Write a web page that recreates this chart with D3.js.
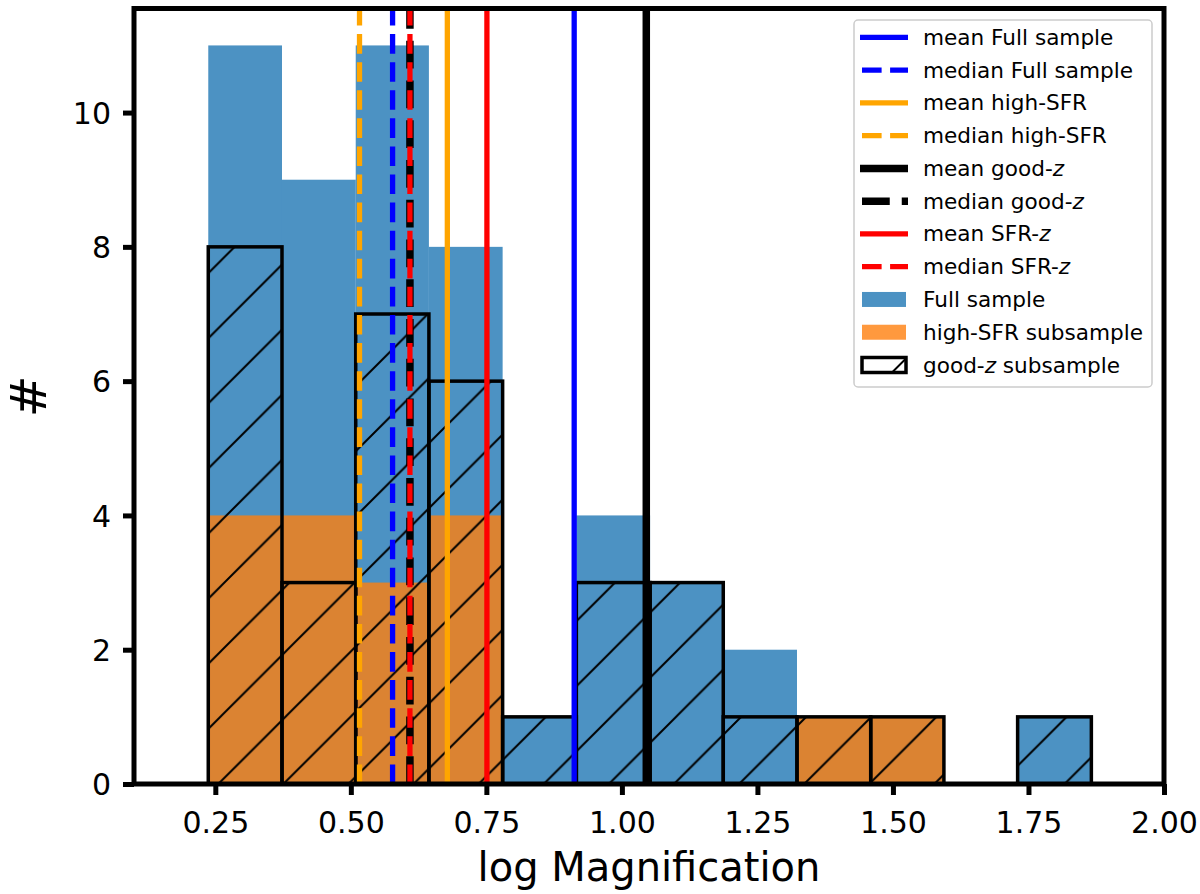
<!DOCTYPE html>
<html>
<head>
<meta charset="utf-8">
<script src="https://cdn.jsdelivr.net/npm/d3@7"></script>
<style>
  html, body { margin: 0; padding: 0; background: #fff; }
  svg { display: block; font-family: "DejaVu Sans", sans-serif; }
</style>
</head>
<body>
<svg id="chart" width="1200" height="894"></svg>
<script>
// ---------------- data ----------------
const binEdges = [0.237, 0.373, 0.509, 0.644, 0.780, 0.916, 1.052, 1.187, 1.323, 1.459, 1.594, 1.730, 1.866];
const fullCounts    = [11, 9, 11, 8, 1, 4, 3, 2, 1, 1, 0, 1];
const highSfrCounts = [4, 4, 3, 4, 0, 0, 0, 0, 1, 1, 0, 0];
const goodZCounts   = [8, 3, 7, 6, 1, 3, 3, 1, 1, 1, 0, 1];

const lineLabels = ["mean Full sample", "median Full sample", "mean high-SFR", "median high-SFR",
                    "mean good-z", "median good-z", "mean SFR-z", "median SFR-z"];
const lineValues = [0.912, 0.577, 0.678, 0.516, 1.045, 0.609, 0.751, 0.609];
const lineColors = ["#0000ff", "#0000ff", "#ffa500", "#ffa500", "#000000", "#000000", "#ff0000", "#ff0000"];
const lineDashed = [false, true, false, true, false, true, false, true];
const lineWide   = [false, false, false, false, true, true, false, false];

const patchLabels = ["Full sample", "high-SFR subsample", "good-z subsample"];

const xTicks = [0.25, 0.50, 0.75, 1.00, 1.25, 1.50, 1.75, 2.00];
const yTicks = [0, 2, 4, 6, 8, 10];
const xDomain = [0.1, 2.0];
const yDomain = [0, 11.55];

// ---------------- layout ----------------
const svg = d3.select("#chart");
const axL = 134, axR = 1164, axT = 8.5, axB = 784;
const x = d3.scaleLinear().domain(xDomain).range([axL, axR]);
const y = d3.scaleLinear().domain(yDomain).range([axB, axT]);

const blue = "#1f77b4", orange = "#ff7f0e";
const hatchStep = 65.1;

const defs = svg.append("defs");
const pat = defs.append("pattern")
  .attr("id", "hatch")
  .attr("patternUnits", "userSpaceOnUse")
  .attr("x", 25.8).attr("y", 0)
  .attr("width", hatchStep).attr("height", hatchStep);
pat.append("path")
  .attr("d", `M0,${hatchStep} L${hatchStep},0 M-4,4 L4,-4 M${hatchStep-4},${hatchStep+4} L${hatchStep+4},${hatchStep-4}`)
  .attr("stroke", "#000").attr("stroke-width", 2).attr("fill", "none");
defs.append("clipPath").attr("id", "clipAx")
  .append("rect").attr("x", axL).attr("y", axT).attr("width", axR - axL).attr("height", axB - axT);

const bins = binEdges.slice(0, -1).map((e, i) => ({ x0: e, x1: binEdges[i + 1], i }));

const plot = svg.append("g");

// full sample
plot.selectAll("rect.full").data(bins.filter(d => fullCounts[d.i] > 0)).join("rect").attr("class", "full")
  .attr("x", d => x(d.x0)).attr("width", d => x(d.x1) - x(d.x0))
  .attr("y", d => y(fullCounts[d.i])).attr("height", d => y(0) - y(fullCounts[d.i]))
  .attr("fill", blue).attr("fill-opacity", 0.8);

// high-SFR
plot.selectAll("rect.high").data(bins.filter(d => highSfrCounts[d.i] > 0)).join("rect").attr("class", "high")
  .attr("x", d => x(d.x0)).attr("width", d => x(d.x1) - x(d.x0))
  .attr("y", d => y(highSfrCounts[d.i])).attr("height", d => y(0) - y(highSfrCounts[d.i]))
  .attr("fill", orange).attr("fill-opacity", 0.8);

// good-z (hatched outlines)
const gz = bins.filter(d => goodZCounts[d.i] > 0);
plot.selectAll("rect.gzh").data(gz).join("rect").attr("class", "gzh")
  .attr("x", d => x(d.x0)).attr("width", d => x(d.x1) - x(d.x0))
  .attr("y", d => y(goodZCounts[d.i])).attr("height", d => y(0) - y(goodZCounts[d.i]))
  .attr("fill", "url(#hatch)");
plot.selectAll("rect.gz").data(gz).join("rect").attr("class", "gz")
  .attr("x", d => x(d.x0)).attr("width", d => x(d.x1) - x(d.x0))
  .attr("y", d => y(goodZCounts[d.i])).attr("height", d => y(0) - y(goodZCounts[d.i]))
  .attr("fill", "none").attr("stroke", "#000").attr("stroke-width", 3.5);

// vertical lines
function lwFor(i) { return lineWide[i] ? 7.5 : 5.3; }
function dashFor(i) {
  const lw = lwFor(i);
  return lineDashed[i] ? `${(3.7 * lw).toFixed(2)},${(1.6 * lw).toFixed(2)}` : null;
}
lineValues.forEach((v, i) => {
  plot.append("line")
    .attr("x1", x(v)).attr("x2", x(v))
    .attr("y1", y(0)).attr("y2", y(yDomain[1]))
    .attr("stroke", lineColors[i]).attr("stroke-width", lwFor(i))
    .attr("stroke-dasharray", dashFor(i))
    .attr("clip-path", "url(#clipAx)");
});

// ---------------- axes ----------------
const xAxis = d3.axisBottom(x).tickValues(xTicks).tickFormat(d3.format(".2f")).tickSize(11).tickPadding(16);
const gx = svg.append("g").attr("transform", `translate(0,${axB})`).call(xAxis);
gx.select(".domain").remove();
gx.selectAll(".tick line").attr("stroke", "#000").attr("stroke-width", 5);
gx.selectAll(".tick text").attr("font-size", 30).attr("fill", "#000")
  .attr("font-family", "DejaVu Sans").attr("dy", "0.74em");

const yAxis = d3.axisLeft(y).tickValues(yTicks).tickFormat(d3.format("d")).tickSize(11).tickPadding(12);
const gy = svg.append("g").attr("transform", `translate(${axL},0)`).call(yAxis);
gy.select(".domain").remove();
gy.selectAll(".tick line").attr("stroke", "#000").attr("stroke-width", 5);
gy.selectAll(".tick text").attr("font-size", 30).attr("fill", "#000")
  .attr("font-family", "DejaVu Sans").attr("dy", "0.36em");

// spines
svg.append("rect").attr("x", axL).attr("y", axT).attr("width", axR - axL).attr("height", axB - axT)
  .attr("fill", "none").attr("stroke", "#000").attr("stroke-width", 5);

// axis labels
svg.append("text").attr("x", (axL + axR) / 2).attr("y", 881)
  .attr("text-anchor", "middle").attr("font-size", 40).attr("fill", "#000")
  .text("log Magnification");
svg.append("text").attr("transform", `translate(46,${(axT + axB) / 2}) rotate(-90)`)
  .attr("text-anchor", "middle").attr("font-size", 50).attr("fill", "#000")
  .text("#");

// ---------------- legend ----------------
const lg = svg.append("g");
lg.append("rect").attr("x", 854).attr("y", 20).attr("width", 298).attr("height", 367)
  .attr("rx", 4).attr("fill", "#fff").attr("fill-opacity", 0.8)
  .attr("stroke", "#cccccc").attr("stroke-width", 1.5);

const rowY0 = 37.3, rowStep = 32.77;
const hx0 = 860, hx1 = 908, tx = 923, lfs = 21.6;

function addLabel(text, yy) {
  const t = lg.append("text").attr("x", tx).attr("y", yy + 7.5).attr("font-size", lfs).attr("fill", "#000");
  const m = text.match(/^(.*-)z$/) || text.match(/^(.*-)z( subsample)$/);
  if (m) {
    t.append("tspan").text(m[1]);
    t.append("tspan").attr("font-style", "italic").text("z");
    if (m[2]) t.append("tspan").text(m[2]);
  } else {
    t.text(text);
  }
}

lineLabels.forEach((lab, i) => {
  const yy = rowY0 + i * rowStep;
  lg.append("line").attr("x1", hx0).attr("x2", hx1).attr("y1", yy).attr("y2", yy)
    .attr("stroke", lineColors[i]).attr("stroke-width", lwFor(i))
    .attr("stroke-dasharray", dashFor(i))
    .attr("stroke-dashoffset", lineDashed[i] ? -2 : 0);
  addLabel(lab, yy);
});

const patchFills = [blue, orange, null];
patchLabels.forEach((lab, j) => {
  const yy = rowY0 + (lineLabels.length + j) * rowStep;
  if (patchFills[j]) {
    lg.append("rect").attr("x", 862).attr("y", yy - 7.5).attr("width", 44).attr("height", 15)
      .attr("fill", patchFills[j]).attr("fill-opacity", 0.8);
  } else {
    lg.append("rect").attr("x", 862).attr("y", yy - 7.5).attr("width", 44).attr("height", 15)
      .attr("fill", "#fff");
    lg.append("line").attr("x1", 892).attr("y1", yy + 7.5).attr("x2", 906).attr("y2", yy - 6.5)
      .attr("stroke", "#000").attr("stroke-width", 2);
    lg.append("rect").attr("x", 862).attr("y", yy - 7.5).attr("width", 44).attr("height", 15)
      .attr("fill", "none").attr("stroke", "#000").attr("stroke-width", 3.5);
  }
  addLabel(lab, yy);
});
</script>
</body>
</html>
